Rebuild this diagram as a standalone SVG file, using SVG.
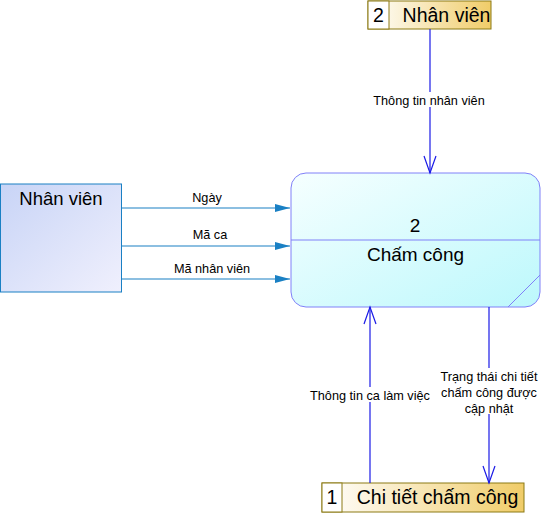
<svg xmlns="http://www.w3.org/2000/svg" width="557" height="513" viewBox="0 0 557 513">
<defs>
<linearGradient id="gStore" x1="0" y1="0" x2="1" y2="0">
<stop offset="0" stop-color="#ffffff"/><stop offset="1" stop-color="#f0cc68"/>
</linearGradient>
<linearGradient id="gEnt" x1="0" y1="0" x2="1" y2="1">
<stop offset="0" stop-color="#c8d4f6"/><stop offset="1" stop-color="#f0f0fd"/>
</linearGradient>
<linearGradient id="gProc" x1="0" y1="0" x2="1" y2="1">
<stop offset="0" stop-color="#f6ffff"/><stop offset="1" stop-color="#bcf8fc"/>
</linearGradient>
<marker id="aFill" markerWidth="16" markerHeight="10" refX="15" refY="5" orient="auto" markerUnits="userSpaceOnUse">
<path d="M0,1 L15,5 L0,9 Z" fill="#1a80c4"/>
</marker>
</defs>
<style>
text{font-family:"Liberation Sans",Arial,sans-serif;fill:#000}
.lbl{font-size:12.7px;text-anchor:middle}
.store rect{stroke:#8c7a14;stroke-width:1}
.store text{font-size:19.5px;text-anchor:middle}
.flow1{stroke:#1a80c4;stroke-width:1.2;fill:none}
.flow2{stroke:#1a1ae6;stroke-width:1.2;fill:none}
.bg{fill:#fff}
</style>
<g id="store-nhanvien" class="store">
<rect x="368" y="1" width="123" height="28" fill="url(#gStore)"/>
<rect x="368" y="1" width="21" height="28" fill="#fff"/>
<text x="378.5" y="22">2</text>
<text x="446.5" y="22">Nhân viên</text>
</g>
<g id="store-chitiet" class="store">
<rect x="322" y="483" width="202" height="29" fill="url(#gStore)"/>
<rect x="322" y="483" width="20" height="29" fill="#fff"/>
<text x="332" y="504">1</text>
<text x="437.5" y="504">Chi tiết chấm công</text>
</g>
<g id="entity-nhanvien">
<rect x="0.5" y="184" width="121" height="108" fill="url(#gEnt)" stroke="#1a80c4" stroke-width="1"/>
<text x="61" y="205" text-anchor="middle" font-size="18.5">Nhân viên</text>
</g>
<g id="process-chamcong">
<rect x="291" y="173" width="249" height="134" rx="15" ry="15" fill="url(#gProc)" stroke="#8080f8" stroke-width="1"/>
<line x1="291" y1="240" x2="540" y2="240" stroke="#8080f8" stroke-width="1"/>
<line x1="508" y1="307" x2="540" y2="275" stroke="#8080f8" stroke-width="1"/>
<text x="415" y="232" text-anchor="middle" font-size="19">2</text>
<text x="415.5" y="261" text-anchor="middle" font-size="19">Chấm công</text>
</g>
<g id="connectors">
<line class="flow1" x1="122" y1="208" x2="290" y2="208" marker-end="url(#aFill)"/>
<line class="flow1" x1="122" y1="246" x2="290" y2="246" marker-end="url(#aFill)"/>
<line class="flow1" x1="122" y1="279" x2="290" y2="279" marker-end="url(#aFill)"/>
<text class="lbl" x="207" y="202">Ngày</text>
<text class="lbl" x="210" y="239">Mã ca</text>
<text class="lbl" x="212" y="273">Mã nhân viên</text>

<line class="flow2" x1="430" y1="29" x2="430" y2="173"/>
<path class="flow2" d="M424,156 L430,173 L436,156"/>
<rect class="bg" x="370" y="92" width="120" height="15"/>
<text class="lbl" x="429" y="105">Thông tin nhân viên</text>

<line class="flow2" x1="370" y1="483" x2="370" y2="307"/>
<path class="flow2" d="M364,324 L370,307 L376,324"/>
<rect class="bg" x="306" y="387" width="128" height="15"/>
<text class="lbl" x="370" y="400">Thông tin ca làm việc</text>

<line class="flow2" x1="489" y1="307" x2="489" y2="483"/>
<path class="flow2" d="M483,466 L489,483 L495,466"/>
<rect class="bg" x="442" y="368" width="96" height="46"/>
<text class="lbl" x="489" y="381">Trạng thái chi tiết</text>
<text class="lbl" x="489" y="397">chấm công được</text>
<text class="lbl" x="489" y="413">cập nhật</text>
</g>
</svg>
